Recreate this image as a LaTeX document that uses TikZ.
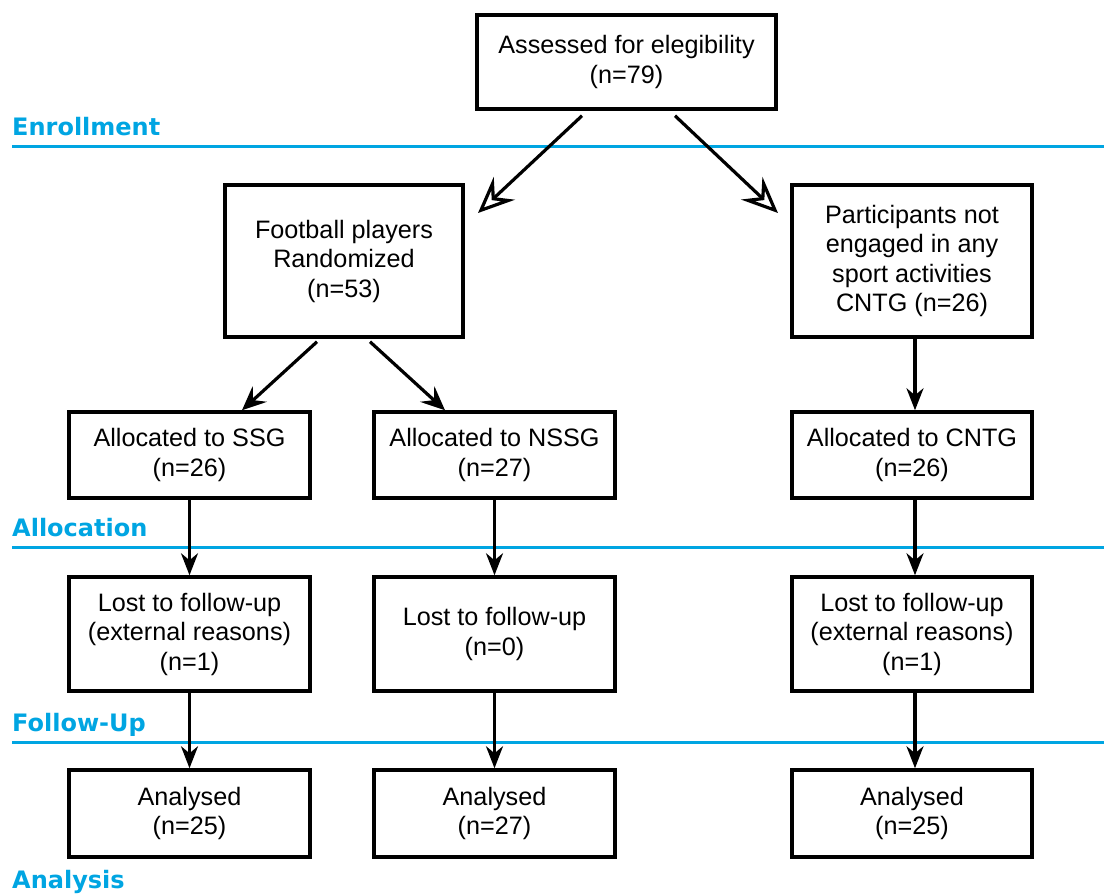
\documentclass[tikz,border=0pt]{standalone}
\usepackage{fontspec}
\setmainfont{Liberation Sans}
\newfontfamily\labfont{DejaVu Sans}
\usetikzlibrary{arrows.meta,calc}
\definecolor{labblue}{RGB}{0,165,226}
\tikzset{
  box/.style={draw, line width=3.5pt, align=center, inner sep=0pt,
    font=\fontsize{25.2}{29.5}\selectfont},
  lab/.style={anchor=base west, inner sep=0pt, text=labblue,
    font=\labfont\bfseries\fontsize{24}{28}\selectfont},
  blueline/.style={draw=labblue, line width=3pt},
  arr/.style={line width=3.2pt, -{Stealth[length=22pt, width=17pt, inset=7pt]}},
  marr/.style={line width=3.2pt, -{Stealth[length=24pt, width=21pt, inset=9pt]}},
  bigarr/.style={line width=3.2pt, -{Stealth[open, length=36pt, width=31pt, inset=13pt]}}
}
\begin{document}
\begin{tikzpicture}[x=1pt,y=-1pt]
\useasboundingbox (0,0) rectangle (1104,895);
% phase lines and labels
\draw[blueline] (12,146) -- (1104,146);
\draw[blueline] (12,547) -- (1104,547);
\draw[blueline] (12,742) -- (1104,742);
\node[lab] (enr) at (12,135) {Enrollment};
\node[lab] (alc) at (12,536) {Allocation};
\node[lab] (fol) at (12,731) {Follow-Up};
\node[lab] (ana) at (12,888) {Analysis};
% boxes
\node[box, minimum width=299pt, minimum height=94pt] (top) at (626.5,62) {Assessed for elegibility\\(n=79)};
\node[box, minimum width=238pt, minimum height=152pt] (foot) at (344,261) {Football players\\Randomized\\(n=53)};
\node[box, minimum width=240pt, minimum height=152pt] (part) at (912,261) {Participants not\\engaged in any\\sport activities\\CNTG (n=26)};
\node[box, minimum width=241pt, minimum height=86pt] (a1) at (189.5,455) {Allocated to SSG\\(n=26)};
\node[box, minimum width=241pt, minimum height=86pt] (a2) at (494.5,455) {Allocated to NSSG\\(n=27)};
\node[box, minimum width=240pt, minimum height=86pt] (a3) at (912,455) {Allocated to CNTG\\(n=26)};
\node[box, minimum width=241pt, minimum height=114pt] (l1) at (189.5,634) {Lost to follow-up\\(external reasons)\\(n=1)};
\node[box, minimum width=241pt, minimum height=114pt] (l2) at (494.5,634) {Lost to follow-up\\(n=0)};
\node[box, minimum width=240pt, minimum height=114pt] (l3) at (912,634) {Lost to follow-up\\(external reasons)\\(n=1)};
\node[box, minimum width=241pt, minimum height=87pt] (n1) at (189.5,813.5) {Analysed\\(n=25)};
\node[box, minimum width=241pt, minimum height=87pt] (n2) at (494.5,813.5) {Analysed\\(n=27)};
\node[box, minimum width=240pt, minimum height=87pt] (n3) at (912,813.5) {Analysed\\(n=25)};
% free arrow ends
\coordinate (t1) at (478,213);
\coordinate (t2) at (778,213);
% connectors
\draw[bigarr] ([xshift=-44.5pt,yshift=-5pt]top.south) -- (t1);
\draw[bigarr] ([xshift=48.5pt,yshift=-5pt]top.south) -- (t2);
\draw[marr] ([xshift=-27pt,yshift=-3pt]foot.south) -- ([xshift=52.5pt]a1.north);
\draw[marr] ([xshift=26pt,yshift=-3pt]foot.south) -- ([xshift=-49.5pt]a2.north);
\draw[arr] ([xshift=3pt]part.south) -- ([xshift=3pt]a3.north);
\draw[arr] (a1.south) -- (l1.north);
\draw[arr] (a2.south) -- (l2.north);
\draw[arr] ([xshift=3pt]a3.south) -- ([xshift=3pt]l3.north);
\draw[arr] (l1.south) -- (n1.north);
\draw[arr] (l2.south) -- (n2.north);
\draw[arr] ([xshift=3pt]l3.south) -- ([xshift=3pt]n3.north);
\end{tikzpicture}
\end{document}
